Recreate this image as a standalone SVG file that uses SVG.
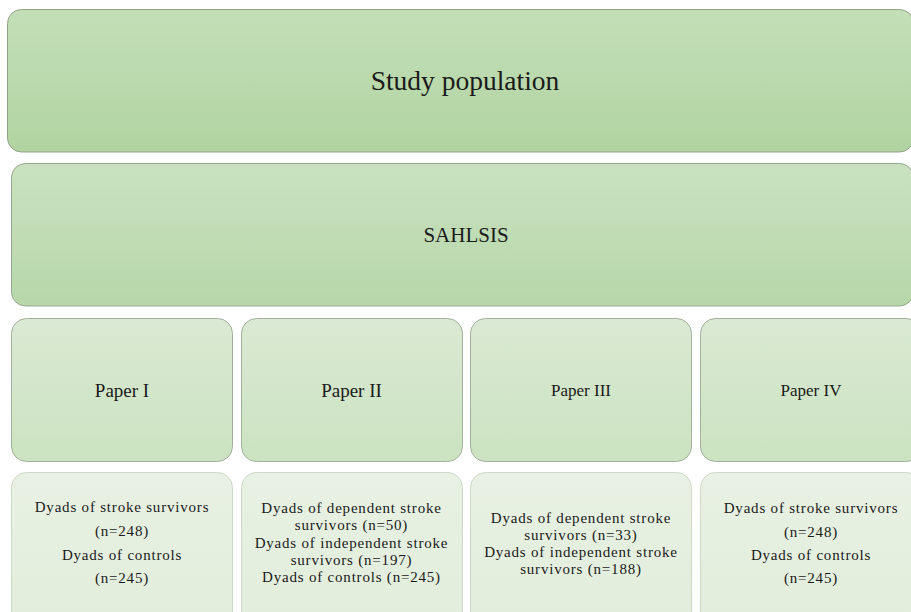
<svg xmlns="http://www.w3.org/2000/svg" width="911" height="612" viewBox="0 0 911 612">
<defs>
<linearGradient id="g1" x1="0" y1="0" x2="0" y2="1"><stop offset="0" stop-color="#c3dfb8"/><stop offset="1" stop-color="#b1d3a1"/></linearGradient>
<linearGradient id="g2" x1="0" y1="0" x2="0" y2="1"><stop offset="0" stop-color="#c9e1c0"/><stop offset="1" stop-color="#b7d7a9"/></linearGradient>
<linearGradient id="g3" x1="0" y1="0" x2="0" y2="1"><stop offset="0" stop-color="#dae9d3"/><stop offset="1" stop-color="#cbe3c1"/></linearGradient>
<linearGradient id="g4" x1="0" y1="0" x2="0" y2="1"><stop offset="0" stop-color="#e8f1e3"/><stop offset="1" stop-color="#e2eddb"/></linearGradient>
<style>
.t{font-family:"Liberation Serif","DejaVu Serif",serif;fill:#1a1a1a;text-anchor:middle}
.b1{fill:url(#g1);stroke:#93a28b;stroke-width:1}
.b2{fill:url(#g2);stroke:#98a790;stroke-width:1}
.b3{fill:url(#g3);stroke:#a4b09e;stroke-width:1}
.b4{fill:url(#g4);stroke:#cdd8c6;stroke-width:1}
.s{font-size:15px;letter-spacing:0.8px}
</style>
</defs>
<rect width="911" height="612" fill="#ffffff"/>
<g id="study-population">
<rect class="b1" x="7.5" y="9.5" width="906" height="142.5" rx="14"/>
<text class="t" x="465" y="90" font-size="27.5">Study population</text>
</g>
<g id="sahlsis">
<rect class="b2" x="11.5" y="163.5" width="902" height="142.5" rx="14"/>
<text class="t" x="466" y="242" font-size="21">SAHLSIS</text>
</g>
<g id="paper-1">
<rect class="b3" x="11.5" y="318.5" width="221" height="143" rx="15"/>
<text class="t" x="122" y="397" font-size="19">Paper I</text>
</g>
<g id="paper-2">
<rect class="b3" x="241.5" y="318.5" width="221" height="143" rx="15"/>
<text class="t" x="351.5" y="397" font-size="19">Paper II</text>
</g>
<g id="paper-3">
<rect class="b3" x="470.5" y="318.5" width="221" height="143" rx="15"/>
<text class="t" x="581" y="396" font-size="17">Paper III</text>
</g>
<g id="paper-4">
<rect class="b3" x="700.5" y="318.5" width="221" height="143" rx="15"/>
<text class="t" x="811" y="396" font-size="17">Paper IV</text>
</g>
<g id="groups-1">
<rect class="b4" x="11.5" y="472.5" width="221" height="160" rx="15"/>
<text class="t s" x="122"><tspan x="122" y="512">Dyads of stroke survivors</tspan><tspan x="122" y="536">(n=248)</tspan><tspan x="122" y="560">Dyads of controls</tspan><tspan x="122" y="583">(n=245)</tspan></text>
</g>
<g id="groups-2">
<rect class="b4" x="241.5" y="472.5" width="221" height="160" rx="15"/>
<text class="t s" x="351.5"><tspan x="351.5" y="513">Dyads of dependent stroke</tspan><tspan x="351.5" y="530">survivors (n=50)</tspan><tspan x="351.5" y="548">Dyads of independent stroke</tspan><tspan x="351.5" y="565">survivors (n=197)</tspan><tspan x="351.5" y="582">Dyads of controls (n=245)</tspan></text>
</g>
<g id="groups-3">
<rect class="b4" x="470.5" y="472.5" width="221" height="160" rx="15"/>
<text class="t s" x="581"><tspan x="581" y="523">Dyads of dependent stroke</tspan><tspan x="581" y="540">survivors (n=33)</tspan><tspan x="581" y="557">Dyads of independent stroke</tspan><tspan x="581" y="574">survivors (n=188)</tspan></text>
</g>
<g id="groups-4">
<rect class="b4" x="700.5" y="472.5" width="221" height="160" rx="15"/>
<text class="t s" x="811"><tspan x="811" y="513">Dyads of stroke survivors</tspan><tspan x="811" y="537">(n=248)</tspan><tspan x="811" y="560">Dyads of controls</tspan><tspan x="811" y="583">(n=245)</tspan></text>
</g>
<g id="connectors"/>
</svg>
